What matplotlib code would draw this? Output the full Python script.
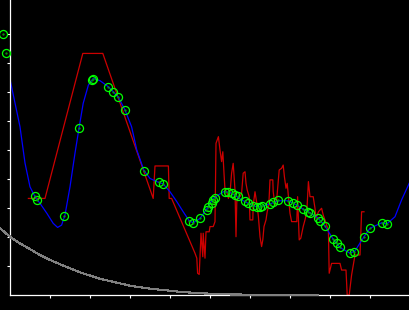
#!/usr/bin/env python3
# -*- coding: utf-8 -*-

import matplotlib
matplotlib.use('Agg')

import matplotlib.pyplot as plt


# Smooth fit (blue)
fit_x = [0.00, 0.25, 0.375, 0.50, 0.625, 0.75, 0.92, 1.08, 1.19, 1.29, 1.375, 1.50, 1.625, 1.725,
         1.83, 1.96, 2.08, 2.25, 2.46, 2.58, 2.71, 2.875, 3.04, 3.17, 3.35, 3.50, 3.67, 3.83,
         4.00, 4.17, 4.33, 4.48, 4.58, 4.75, 4.93, 5.08, 5.33, 5.50, 5.67, 5.83, 6.08, 6.25,
         6.50, 6.71, 6.96, 7.17, 7.33, 7.50, 7.71, 7.875, 8.08, 8.25, 8.50, 8.625, 8.85, 9.00,
         9.29, 9.42, 9.625, 9.79, 9.98]
fit_y = [7.44, 5.80, 4.55, 3.73, 3.39, 3.16, 2.82, 2.47, 2.33, 2.41, 2.76, 3.73, 4.89, 5.75,
         6.61, 7.24, 7.47, 7.39, 7.18, 7.01, 6.82, 6.38, 5.80, 5.00, 4.29, 4.02, 3.91, 3.83,
         3.56, 3.22, 2.87, 2.56, 2.49, 2.64, 2.99, 3.33, 3.56, 3.54, 3.39, 3.25, 3.07, 3.04,
         3.14, 3.25, 3.25, 3.10, 2.96, 2.84, 2.64, 2.38, 1.92, 1.64, 1.44, 1.52, 2.01, 2.30,
         2.49, 2.45, 2.70, 3.28, 3.85]

# Sample points (green circles)
pts_x = [-0.175, -0.10, 0.625, 0.68, 1.36, 1.725, 2.06, 2.08, 2.46, 2.58, 2.71, 2.88, 3.35,
         3.73, 3.83, 4.48, 4.58, 4.75, 4.92, 4.96, 5.04, 5.08, 5.125, 5.375, 5.46, 5.54, 5.625,
         5.71, 5.875, 5.96, 6.08, 6.17, 6.25, 6.29, 6.50, 6.58, 6.71, 6.96, 7.08, 7.17, 7.32,
         7.46, 7.50, 7.71, 7.75, 7.875, 8.08, 8.17, 8.25, 8.50, 8.61, 8.85, 9.00, 9.29, 9.42]
pts_y = [9.00, 8.34, 3.42, 3.28, 2.72, 5.75, 7.41, 7.44, 7.16, 6.99, 6.82, 6.37, 4.27,
         3.89, 3.83, 2.55, 2.48, 2.64, 2.93, 3.02, 3.18, 3.28, 3.36, 3.56, 3.56, 3.53, 3.45,
         3.41, 3.24, 3.18, 3.07, 3.04, 3.04, 3.07, 3.14, 3.20, 3.28, 3.25, 3.18, 3.10, 2.96,
         2.87, 2.84, 2.64, 2.56, 2.38, 1.92, 1.78, 1.64, 1.44, 1.49, 2.01, 2.30, 2.49, 2.45]

# Raw signal (red)
raw_x = [0.46, 0.875, 1.82, 2.32, 3.58, 3.625, 3.96, 3.98, 4.04, 4.625, 4.67, 4.69, 4.73,
         4.75, 4.775, 4.82, 4.83, 4.875, 4.90, 4.98, 5.00, 5.08, 5.11, 5.125, 5.15, 5.21,
         5.23, 5.25, 5.29, 5.32, 5.35, 5.375, 5.42, 5.46, 5.50, 5.54, 5.58, 5.625, 5.65,
         5.67, 5.71, 5.75, 5.79, 5.83, 5.875, 5.90, 5.93, 5.98, 6.00, 6.07, 6.08, 6.125,
         6.17, 6.21, 6.25, 6.29, 6.32, 6.35, 6.40, 6.43, 6.47, 6.50, 6.57, 6.58, 6.625,
         6.67, 6.73, 6.79, 6.83, 6.86, 6.90, 6.93, 7.00, 7.04, 7.17, 7.19, 7.23, 7.27,
         7.33, 7.375, 7.42, 7.46, 7.50, 7.58, 7.625, 7.65, 7.71, 7.79, 7.83, 7.96, 7.98,
         8.04, 8.25, 8.29, 8.40, 8.43, 8.48, 8.54, 8.625, 8.75, 8.79, 8.85]
raw_y = [3.33, 3.33, 8.33, 8.33, 3.33, 4.45, 4.45, 3.33, 3.33, 1.44, 1.27, 0.75, 0.71,
         1.32, 2.13, 1.32, 2.13, 1.27, 2.18, 2.18, 2.36, 2.36, 2.47, 2.53, 5.23, 5.46,
         5.23, 5.00, 4.60, 4.94, 4.20, 3.62, 3.56, 3.33, 3.51, 4.20, 4.54, 3.62, 2.01,
         3.22, 3.39, 3.39, 3.51, 4.20, 4.25, 3.85, 3.62, 3.39, 2.59, 2.59, 3.10, 3.56,
         3.16, 2.70, 2.01, 1.67, 1.90, 2.36, 2.59, 2.87, 3.10, 3.97, 3.97, 3.56, 3.10,
         3.33, 4.31, 4.37, 4.48, 4.08, 3.68, 3.85, 2.82, 2.53, 2.53, 3.39, 1.90, 1.96,
         2.36, 2.59, 2.87, 3.91, 3.39, 3.39, 2.99, 2.64, 2.87, 2.99, 2.76, 2.24, 0.75,
         1.09, 1.09, 0.86, 0.86, 0.00, 0.00, 0.69, 1.38, 1.38, 2.87, 2.87]

# Decay curve (gray)
decay_x = [-0.25, 0.00, 0.25, 0.50, 0.75, 1.00, 1.25, 1.50, 1.75, 2.00, 2.25, 2.50, 2.75,
           3.00, 3.25, 3.50, 3.75, 4.00, 4.25, 4.75, 5.45, 6.93, 7.70]
decay_y = [2.30, 2.01, 1.78, 1.58, 1.38, 1.21, 1.06, 0.92, 0.78, 0.67, 0.56, 0.48, 0.40,
           0.32, 0.27, 0.22, 0.18, 0.15, 0.11, 0.06, 0.02, 0.00, 0.00]

X_TICKS = [1, 2, 3, 4, 5, 6, 7, 8, 9]
Y_TICKS = [1, 2, 3, 4, 5, 6, 7, 8, 9]


fig = plt.figure(figsize=(4.1, 3.1), dpi=100, facecolor='black')
ax = fig.add_axes([10 / 410, 15 / 310, 400 / 410, 295 / 310])
ax.set_facecolor('black')

ax.plot(decay_x, decay_y, color='#808080', lw=0.8, clip_on=False, zorder=3, antialiased=False)
ax.plot(raw_x, raw_y, color='#cc0000', lw=0.9, zorder=2)
ax.plot(fit_x, fit_y, color='#0000ff', lw=0.9, zorder=2)
ax.plot(pts_x, pts_y, 'o', mfc='none', mec='#00ff00', mew=0.9, ms=5.8, clip_on=False, zorder=4)
ax.plot(pts_x, pts_y, '.', color='#00aa00', ms=1.2, clip_on=False, zorder=4)

ax.set_xlim(0, 10)
ax.set_ylim(0, 295 / 29)
ax.set_xticks(X_TICKS)
ax.set_yticks(Y_TICKS)
ax.set_xticklabels([])
ax.set_yticklabels([])
ax.tick_params(colors='white', direction='out', length=2.5, width=0.8)

for side in ('top', 'right'):
    ax.spines[side].set_visible(False)
for side in ('left', 'bottom'):
    ax.spines[side].set_color('white')
    ax.spines[side].set_linewidth(0.9)

fig.savefig('out.png', dpi=100, facecolor='black')
